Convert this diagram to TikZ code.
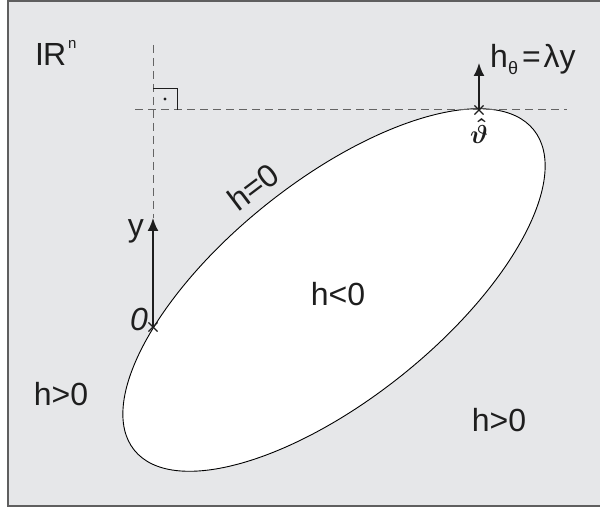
\RequirePackage{fix-cm}
\documentclass[tikz,border=0pt]{standalone}
\usepackage[no-math]{fontspec}
\setmainfont{Liberation Sans}
\usetikzlibrary{arrows.meta,positioning,shapes.misc}
\definecolor{Panel}{RGB}{230,231,233}
\definecolor{Frame}{RGB}{95,95,95}
\definecolor{Guide}{RGB}{100,100,100}
\definecolor{Ink}{RGB}{30,30,30}
\tikzset{
  txt/.style={inner sep=0pt,text=Ink,font=\fontsize{32}{38}\selectfont},
  guide/.style={draw=Guide,line width=1pt,dash pattern=on 8pt off 5pt},
  vec/.style={-{Latex[length=13pt,width=11pt]},line width=1.8pt,draw=Ink},
  cross/.style={cross out,draw=Ink,line width=1.1pt,minimum size=8pt,inner sep=0pt},
  boundary/.style={draw=black,line width=0.9pt,fill=white}
}

\begin{document}
\begin{tikzpicture}[x=1pt,y=-1pt]
\useasboundingbox (0,0) rectangle (600,510);
\draw[draw=Frame,fill=Panel,line width=1.5pt] (8,1) rectangle (612,506);
\draw[boundary,rotate around={38.7:(334,290)}] (334,290) ellipse [x radius=256,y radius=109];
\node[cross] (opt) at (479,110) {};
\node[cross] (origin) at (153,327) {};
\coordinate (ytip) at (153,218);
\coordinate (vtop) at (153,45);
\coordinate (htip) at (479,63);
\coordinate (hleft) at (135,110);
\coordinate (hright) at (567,110);
\draw[guide] (hleft) -- (hright);
\draw[guide] (vtop) -- (ytip);
\draw[vec] (origin.center) -- (ytip);
\draw[vec] (opt.center) -- (htip);
\draw[line width=0.8pt,draw=Ink] (153,88) -| (177,110);
\fill[Ink] (165,99) circle (1.6pt);
\node[txt,anchor=base west] (space) at (35,66) {I\kern-1pt R\kern2pt\raisebox{17pt}{\fontsize{15}{15}\selectfont n}};
\node[txt,anchor=base west] (hgrad) at (490,68) {h\raisebox{-7pt}{\fontsize{18}{18}\selectfont θ}\kern4pt=\kern3ptλy};
\node[inner sep=0pt,text=Ink,below=4pt of opt] (thhat) {\scalebox{2.6}{\boldmath$\hat{\vartheta}$}};
\node[txt,rotate=37] (bound) at (253,187) {h=0};
\node[txt] (inside) at (338,294) {h<0};
\node[txt] (outleft) at (61,394) {h>0};
\node[txt] (outright) at (499,420) {h>0};
\node[txt,anchor=base east] (ylbl) at (144,237) {y};
\node[inner sep=0pt,text=Ink,font=\fontsize{32}{38}\selectfont\itshape,anchor=base east] (zero) at (148,331) {0};
\end{tikzpicture}
\end{document}
